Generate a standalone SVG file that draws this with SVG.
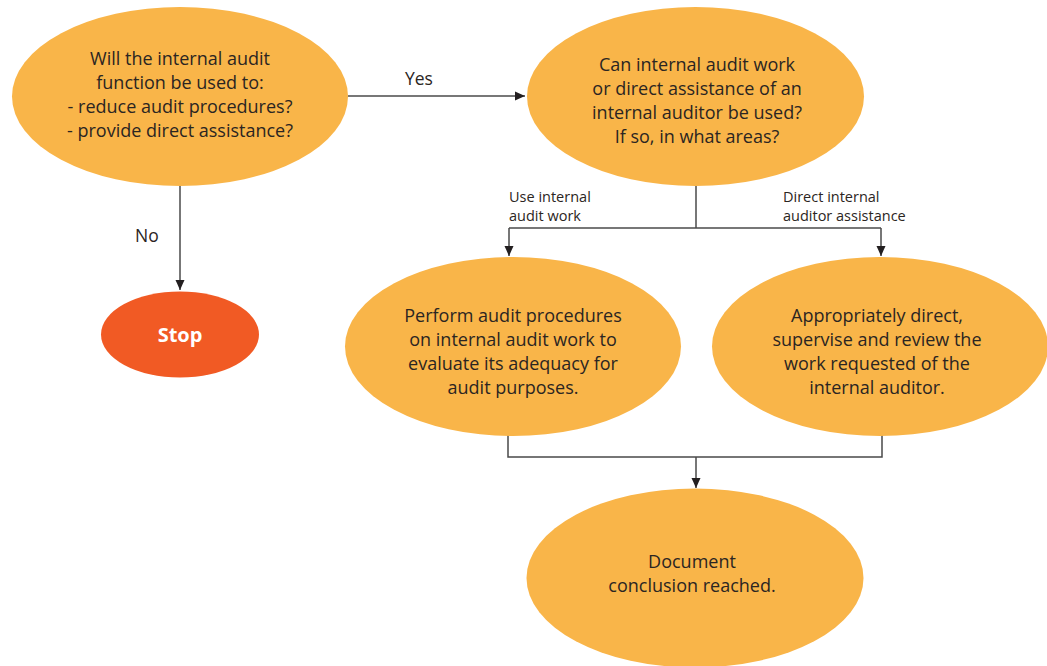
<svg xmlns="http://www.w3.org/2000/svg" width="1047" height="666" viewBox="0 0 1047 666">
<style>
.node{fill:#F9B549}
.stop{fill:#F15A24}
.t{font-family:"Open Sans","Liberation Sans",sans-serif;font-size:18px;fill:#2b2522;text-anchor:middle}
.lbl{font-family:"Open Sans","Liberation Sans",sans-serif;font-size:17.5px;fill:#2b2522}
.sm{font-family:"Open Sans","Liberation Sans",sans-serif;font-size:14.5px;fill:#2b2522}
.st{font-family:"Open Sans","Liberation Sans",sans-serif;font-size:20px;font-weight:bold;fill:#ffffff;text-anchor:middle}
.c{fill:none;stroke:#4a4a4a;stroke-width:1.5}
</style>
<defs>
<marker id="ah" markerWidth="10" markerHeight="10" viewBox="0 0 10 10" refX="10" refY="5" orient="auto" markerUnits="userSpaceOnUse">
<path d="M0,0.5 L10,5 L0,9.5 Z" fill="#231f20"/>
</marker>
</defs>
<g id="connectors">
<path class="c" d="M348,96 H525" marker-end="url(#ah)"/>
<path class="c" d="M180,186 V290" marker-end="url(#ah)"/>
<path class="c" d="M696,186 V228"/>
<path class="c" d="M509,228 H881"/>
<path class="c" d="M509,228 V256" marker-end="url(#ah)"/>
<path class="c" d="M881,228 V256" marker-end="url(#ah)"/>
<path class="c" d="M508,434 V457 H882 V434"/>
<path class="c" d="M696,457 V488" marker-end="url(#ah)"/>
<text class="lbl" x="405" y="85">Yes</text>
<text class="lbl" x="135" y="242">No</text>
<text class="sm" x="509" y="202">Use internal</text>
<text class="sm" x="509" y="221">audit work</text>
<text class="sm" x="783" y="202">Direct internal</text>
<text class="sm" x="783" y="221">auditor assistance</text>
</g>
<g id="n1">
<ellipse class="node" cx="180" cy="96.5" rx="168" ry="89.5"/>
<text class="t" x="180" y="65">Will the internal audit</text>
<text class="t" x="180" y="89">function be used to:</text>
<text class="t" x="180" y="113">- reduce audit procedures?</text>
<text class="t" x="180" y="137">- provide direct assistance?</text>
</g>
<g id="n2">
<ellipse class="node" cx="695.5" cy="96.5" rx="168.5" ry="89.5"/>
<text class="t" x="697" y="71">Can internal audit work</text>
<text class="t" x="697" y="95">or direct assistance of an</text>
<text class="t" x="697" y="119">internal auditor be used?</text>
<text class="t" x="697" y="143">If so, in what areas?</text>
</g>
<g id="stop">
<ellipse class="stop" cx="180" cy="334.5" rx="79" ry="43"/>
<text class="st" x="180" y="342">Stop</text>
</g>
<g id="n3">
<ellipse class="node" cx="513" cy="346.5" rx="168" ry="89.5"/>
<text class="t" x="513" y="322">Perform audit procedures</text>
<text class="t" x="513" y="346">on internal audit work to</text>
<text class="t" x="513" y="370">evaluate its adequacy for</text>
<text class="t" x="513" y="394">audit purposes.</text>
</g>
<g id="n4">
<ellipse class="node" cx="880" cy="346.5" rx="168" ry="89.5"/>
<text class="t" x="877" y="322">Appropriately direct,</text>
<text class="t" x="877" y="346">supervise and review the</text>
<text class="t" x="877" y="370">work requested of the</text>
<text class="t" x="877" y="394">internal auditor.</text>
</g>
<g id="n5">
<ellipse class="node" cx="695" cy="578" rx="168.5" ry="89.5"/>
<text class="t" x="692" y="568">Document</text>
<text class="t" x="692" y="592">conclusion reached.</text>
</g>
</svg>
